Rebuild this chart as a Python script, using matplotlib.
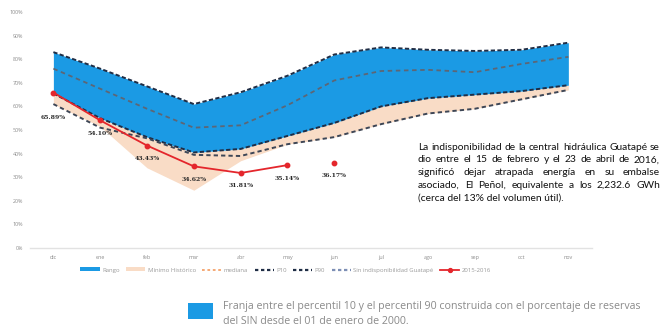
import matplotlib
matplotlib.use("Agg")
import matplotlib.pyplot as plt
import numpy as np
from matplotlib.lines import Line2D
from matplotlib.patches import Patch

plt.rcParams['font.family'] = ['Open Sans', 'DejaVu Sans']

months = ["dic", "ene", "feb", "mar", "abr", "may", "jun", "jul", "ago", "sep", "oct", "nov"]
p90 = [83, 76, 68.5, 61, 66, 73, 82, 85, 84, 83.5, 84, 87]
mediana = [76, 67.5, 59, 51, 52, 60.5, 71, 75, 75.5, 74.5, 78, 81]
p10 = [65.5, 55, 47, 40.5, 42, 47.5, 53, 60, 63.5, 65, 66.5, 69]
minimo_hist = [61, 51.5, 34, 24.5, 37, 44, 47, 52.5, 57, 59, 63, 67]
sin_indisp = [61, 51, 46.5, 39.5, 39, 44, 47, 52.5, 57, 59, 63, 67]
real_2016 = [65.89, 54.10, 43.43, 34.62, 31.81, 35.14]
punto_jun = 36.17
yticks = [0, 10, 20, 30, 40, 50, 60, 70, 80, 90, 100]

x = np.arange(len(months))

fig = plt.figure(figsize=(6.72, 3.29), dpi=100)
ax = fig.add_axes([0.0446, 0.246, 0.836, 0.7175])

blue = "#1b9ae4"
peach = "#f9dcc6"
red = "#e4262c"
navy = "#1f2d45"

ax.fill_between(x, minimo_hist, p10, color=peach, lw=0, zorder=1)
ax.fill_between(x, p10, p90, color=blue, lw=0, zorder=2)
ax.plot(x, p90, color=navy, lw=1.4, ls=(0, (2.2, 1.2)), zorder=3)
ax.plot(x, p10, color=navy, lw=1.4, ls=(0, (2.2, 1.2)), zorder=3)
ax.plot(x, mediana, color="#5d6675", lw=1.3, ls=(0, (2.5, 2)), zorder=3)
ax.plot(x, sin_indisp, color="#3d4656", lw=1.4, ls=(0, (2.2, 1.6)), zorder=3)

xr = x[:len(real_2016)]
ax.plot(xr, real_2016, color=red, lw=1.3, marker="o", ms=3.2, zorder=4)
ax.plot([x[6]], [punto_jun], color=red, marker="o", ms=3.2, ls="none", zorder=4)

label_dy = [-10.5, -5.5, -5.5, -5.5, -5.5, -5.5]
for xi, v, dy in zip(xr, real_2016, label_dy):
    ax.text(xi, v + dy, f"{v:.2f}%", ha="center", va="center", fontsize=4.4,
            color="#2a2a2a", family="DejaVu Serif", fontweight="bold", zorder=5)
ax.text(x[6], punto_jun - 5.5, f"{punto_jun:.2f}%", ha="center", va="center",
        fontsize=4.4, color="#2a2a2a", family="DejaVu Serif", fontweight="bold",
        zorder=5)

ax.set_xlim(-0.5, 11.5)
ax.set_ylim(0, 100)
ax.set_xticks(x)
ax.set_xticklabels(months)
ax.set_yticks(yticks)
ax.set_yticklabels([f"{t}%" for t in yticks])
ax.tick_params(axis="both", length=0, labelsize=3.9, colors="#8a8a8a", pad=5)
for s in ["top", "right", "left"]:
    ax.spines[s].set_visible(False)
ax.spines["bottom"].set_color("#e2e2e2")
ax.spines["bottom"].set_linewidth(1.0)

handles = [
    Patch(facecolor=blue, edgecolor="none"),
    Patch(facecolor=peach, edgecolor="none"),
    Line2D([], [], color="#f4a36b", lw=1.3, ls=(0, (1.5, 1.5))),
    Line2D([], [], color=navy, lw=1.6, ls=(0, (1.5, 1.2))),
    Line2D([], [], color=navy, lw=1.6, ls=(0, (1.5, 1.2))),
    Line2D([], [], color="#7d8fb5", lw=1.6, ls=(0, (1.5, 1.2))),
    Line2D([], [], color=red, lw=1.3, marker="o", ms=2.8),
]
labels = ["Rango", "Mínimo Histórico", "mediana", "P10", "P90",
          "Sin indisponibilidad Guatapé", "2015-2016"]
fig.legend(handles, labels, loc="center", bbox_to_anchor=(0.425, 1 - 270 / 329),
           ncol=7, frameon=False, fontsize=4.3, handlelength=3.2, handleheight=0.6,
           columnspacing=1.1, handletextpad=0.4, labelcolor="#9a9a9a")

# Justified note block: every line except the last is stretched to the box width
note_lines = [
    "La indisponibilidad de la central hidráulica Guatapé se",
    "dio entre el 15 de febrero y el 23 de abril de 2016,",
    "significó dejar atrapada energía en su embalse",
    "asociado, El Peñol, equivalente a los 2,232.6 GWh",
    "(cerca del 13% del volumen útil).",
]
box_left, box_right = 418, 660
y0, dy_line = 147, 12.8
renderer = fig.canvas.get_renderer()

# pick the size at which the longest line fills the box on its own
probe = fig.text(0, 0, note_lines[0], fontsize=10, family="Lato")
note_size = 10 * (box_right - box_left - 2) / probe.get_window_extent(renderer).width
probe.remove()

note_style = dict(fontsize=note_size, color="#111111", family="Lato",
                  va="center", ha="left")
for i, line in enumerate(note_lines):
    yf = 1 - (y0 + i * dy_line) / 329
    words = line.split()
    if i == len(note_lines) - 1:
        fig.text(box_left / 672, yf, line, **note_style)
        continue
    artists = [fig.text(0, yf, w, **note_style) for w in words]
    widths = [a.get_window_extent(renderer).width for a in artists]
    gap = (box_right - box_left - sum(widths)) / (len(words) - 1)
    xpos = box_left
    for a, w in zip(artists, widths):
        a.set_x(xpos / 672)
        xpos += w + gap

fig.patches.append(plt.Rectangle((188 / 672, 1 - 319 / 329), 25 / 672, 16 / 329,
                                 transform=fig.transFigure, facecolor=blue,
                                 edgecolor="none"))
fig.text(223 / 672, 1 - 306 / 329,
         "Franja entre el percentil 10 y el percentil 90 construida con el porcentaje de reservas",
         ha="left", va="center", fontsize=7.65, color="#8a8a8a")
fig.text(223 / 672, 1 - 321 / 329, "del SIN desde el 01 de enero de 2000.",
         ha="left", va="center", fontsize=7.65, color="#8a8a8a")

fig.savefig("out.png", dpi=100)
